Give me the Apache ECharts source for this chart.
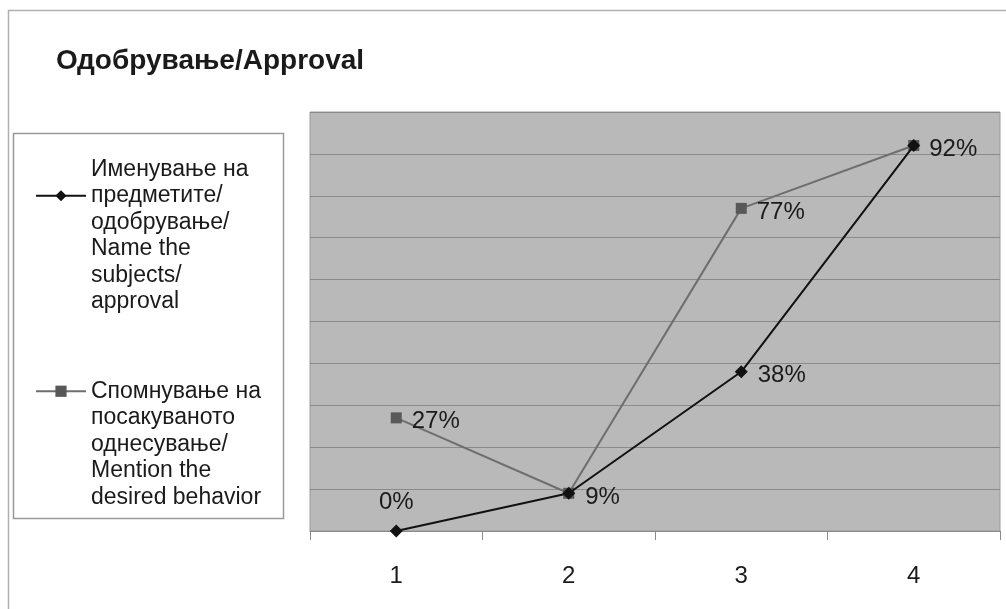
<!DOCTYPE html>
<html>
<head>
<meta charset="utf-8">
<script src="https://cdn.jsdelivr.net/npm/echarts@6/dist/echarts.min.js"></script>
<style>
  html, body { margin: 0; padding: 0; background: #fff; }
  #chart { width: 1006px; height: 609px; }
</style>
</head>
<body>
<div id="chart"></div>
<script>
// Categories along the x axis
const categories = ['1', '2', '3', '4'];

// Series names (Macedonian / English)
const nameSubjects = 'Именување на\nпредметите/\nодобрување/\nName the\nsubjects/\napproval';
const nameBehavior = 'Спомнување на\nпосакуваното\nоднесување/\nMention the\ndesired behavior';

// Percent values per category
const valuesSubjects = [0, 9, 38, 92];
const valuesBehavior = [27, 9, 77, 92];

// Label placement per point (null = no label)
const labelPosSubjects = ['top', 'right', 'right', null];
const labelPosBehavior = ['right', null, 'right', 'right'];

const FONT = '"Liberation Sans", Arial, sans-serif';
const LEGEND_LH = 26.5;

function toData(values, positions) {
  return values.map((v, i) => ({
    value: v,
    label: positions[i]
      ? { show: true, position: positions[i], offset: positions[i] === 'right' ? [0, 4] : [0, 0] }
      : { show: false }
  }));
}

// Blank lines above a legend entry so its symbol sits beside the given text line
function padTop(n) { return '\n'.repeat(n); }

const legendText = { fontFamily: FONT, fontSize: 23, lineHeight: LEGEND_LH, color: '#1a1a1a' };

const chart = echarts.init(document.getElementById('chart'), null, { renderer: 'canvas' });

chart.setOption({
  animation: false,
  backgroundColor: '#ffffff',
  title: {
    text: 'Одобрување/Approval',
    left: 51,
    top: 42,
    textStyle: { fontFamily: FONT, fontSize: 28, fontWeight: 'bold', color: '#1a1a1a' }
  },
  graphic: [
    {
      type: 'rect', z: -10, silent: true,
      shape: { x: 8.5, y: 10.5, width: 1010, height: 610 },
      style: { fill: 'none', stroke: '#b0b0b0', lineWidth: 1.5 }
    },
    {
      type: 'rect', z: -10, silent: true,
      shape: { x: 13.5, y: 133.5, width: 270, height: 385 },
      style: { fill: '#ffffff', stroke: '#9a9a9a', lineWidth: 1.5 }
    }
  ],
  legend: [
    {
      orient: 'vertical', left: 30, top: 151 - 3 * LEGEND_LH,
      itemWidth: 50, itemHeight: 14, itemGap: 0,
      data: [nameSubjects],
      formatter: name => padTop(3) + name,
      lineStyle: { width: 2 },
      textStyle: legendText
    },
    {
      orient: 'vertical', left: 30, top: 373 - 4 * LEGEND_LH,
      itemWidth: 50, itemHeight: 14, itemGap: 0,
      data: [nameBehavior],
      formatter: name => padTop(4) + name,
      lineStyle: { width: 2 },
      textStyle: legendText
    }
  ],
  grid: {
    left: 310, top: 112, width: 690, height: 419,
    show: true, backgroundColor: '#b9b9b9', borderColor: '#9a9a9a', borderWidth: 1
  },
  xAxis: {
    type: 'category',
    data: categories,
    boundaryGap: true,
    axisLine: { lineStyle: { color: '#8a8a8a', width: 1 } },
    axisTick: { show: true, length: 9, lineStyle: { color: '#8a8a8a' } },
    axisLabel: { fontFamily: FONT, fontSize: 24, color: '#1a1a1a', margin: 33 }
  },
  yAxis: {
    type: 'value',
    min: 0, max: 100, interval: 10,
    axisLine: { show: false },
    axisTick: { show: false },
    axisLabel: { show: false },
    splitLine: { lineStyle: { color: '#8a8a8a', width: 1 } }
  },
  series: [
    {
      name: nameSubjects,
      type: 'line',
      data: toData(valuesSubjects, labelPosSubjects),
      symbol: 'diamond', symbolSize: 13,
      lineStyle: { color: '#111111', width: 2 },
      itemStyle: { color: '#111111' },
      label: {
        fontFamily: FONT, fontSize: 24, color: '#1a1a1a', distance: 10,
        formatter: p => p.value + '%'
      },
      z: 3
    },
    {
      name: nameBehavior,
      type: 'line',
      data: toData(valuesBehavior, labelPosBehavior),
      symbol: 'rect', symbolSize: 11,
      lineStyle: { color: '#6e6e6e', width: 2 },
      itemStyle: { color: '#585858' },
      label: {
        fontFamily: FONT, fontSize: 24, color: '#1a1a1a', distance: 10,
        formatter: p => p.value + '%'
      },
      z: 2
    }
  ]
});
</script>
</body>
</html>
